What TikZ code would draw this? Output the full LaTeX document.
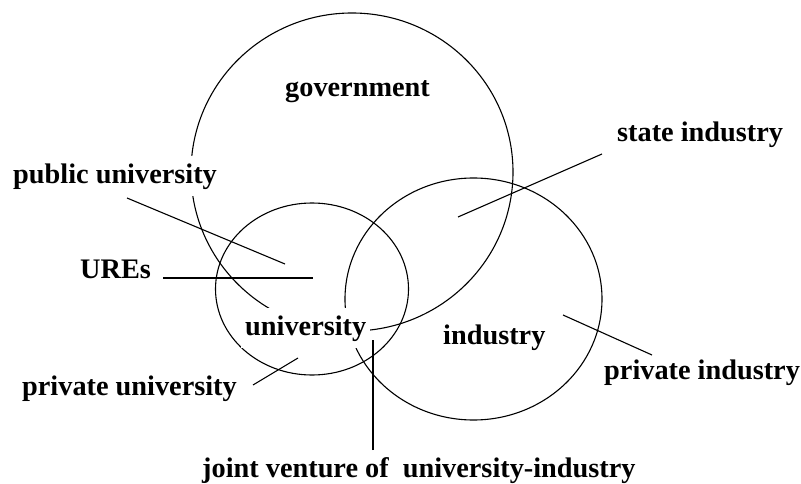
\documentclass[tikz,border=0pt]{standalone}
\usepackage{fontspec}
\setmainfont{Liberation Serif}
\begin{document}
\begin{tikzpicture}[x=1pt,y=-1pt,
  circ/.style={draw=black,line width=1.1pt},
  lead/.style={draw=black,line width=1.1pt},
  lbl/.style={inner sep=0pt,anchor=base west,font=\fontsize{28.3}{34}\selectfont\bfseries},
  mask/.style={lbl,fill=white,inner xsep=4pt,inner ysep=7pt}]
\useasboundingbox (0,0) rectangle (801,484);
% circles
\draw[circ] (352,172) ellipse [x radius=161, y radius=159];
\draw[circ] (312,289) ellipse [x radius=96.5, y radius=86];
\draw[circ] (473.5,299) ellipse [x radius=128.5, y radius=121];
% labels
\node[mask] (pubu) at (9,183) {public university\hspace{4pt}};
\node[lbl] (gov) at (285,97) {government};
\node[lbl] (stind) at (617,142) {state industry};
\node[lbl] (ures) at (80,278) {UREs};
\node[mask] (univ) at (241,335) {university\hspace{7pt}};
\node[lbl] (privu) at (22,395) {private university};
\node[lbl] (ind) at (443,344) {industry};
\node[lbl] (privi) at (604,379) {private industry};
\node[lbl] (joint) at (202,477) {joint venture of\ \ university-industry};
% leader ends
\coordinate (pubuA) at (127,198); \coordinate (pubuB) at (285,264);
\coordinate (uresA) at (163,278); \coordinate (uresB) at (313,278);
\coordinate (privuA) at (253,385); \coordinate (privuB) at (298,358);
\coordinate (jointA) at (373,450); \coordinate (jointB) at (373,340);
\coordinate (stindA) at (602,154); \coordinate (stindB) at (458,217);
\coordinate (priviA) at (652,355); \coordinate (priviB) at (563,315);
\draw[lead] (pubuA) -- (pubuB);
\draw[lead] (uresA) -- (uresB);
\draw[lead] (privuA) -- (privuB);
\draw[lead] (jointA) -- (jointB);
\draw[lead] (stindA) -- (stindB);
\draw[lead] (priviA) -- (priviB);
\end{tikzpicture}
\end{document}
